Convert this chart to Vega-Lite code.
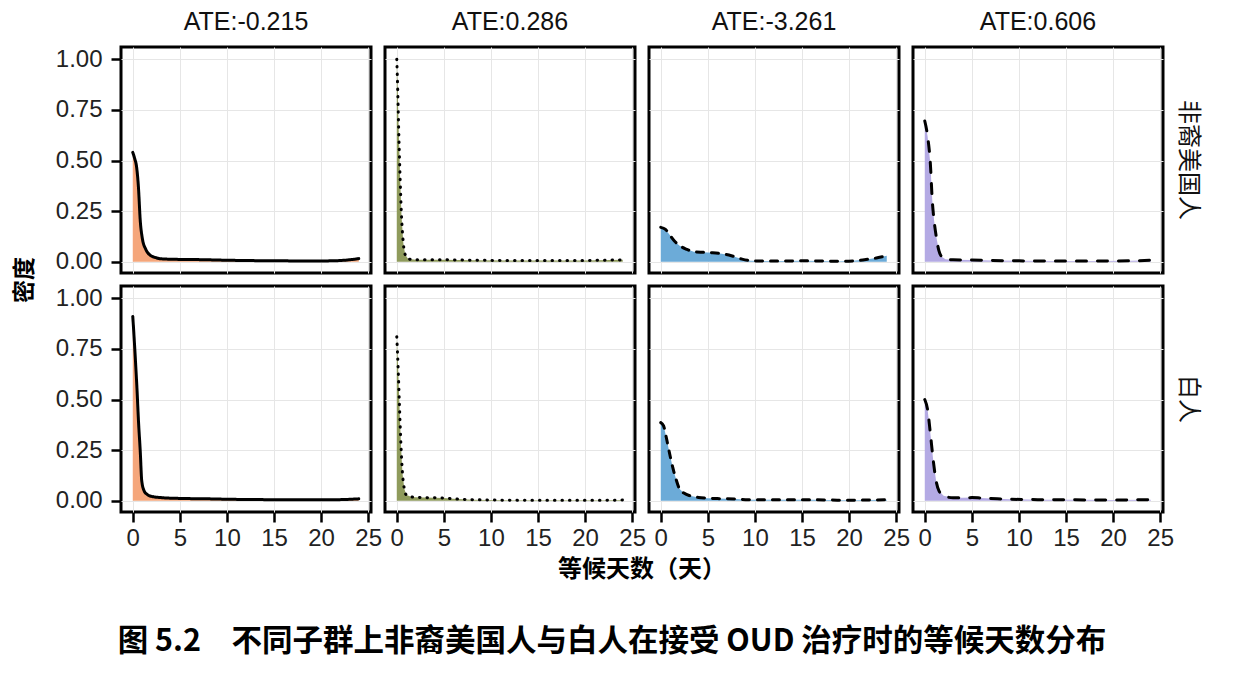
{
  "$schema": "https://vega.github.io/schema/vega-lite/v6.json",
  "padding": {"left": 14, "top": 10, "right": 10, "bottom": 10},
  "bounds": "flush",
  "title": {"text": "图 5.2　不同子群上非裔美国人与白人在接受 OUD 治疗时的等候天数分布", "orient": "bottom", "anchor": "middle", "font": "Noto Sans CJK SC", "fontWeight": "bold", "fontSize": 30.5, "offset": 45, "dx": 5, "color": "#000"},
  "datasets": {
    "d": [
      {"g":"非裔美国人","a":"ATE:-0.215","x":0,"y":0.54},{"g":"非裔美国人","a":"ATE:-0.215","x":0.2,"y":0.51},{"g":"非裔美国人","a":"ATE:-0.215","x":0.4,"y":0.47},{"g":"非裔美国人","a":"ATE:-0.215","x":0.6,"y":0.37},{"g":"非裔美国人","a":"ATE:-0.215","x":0.8,"y":0.2},{"g":"非裔美国人","a":"ATE:-0.215","x":1.0,"y":0.12},{"g":"非裔美国人","a":"ATE:-0.215","x":1.4,"y":0.06},{"g":"非裔美国人","a":"ATE:-0.215","x":1.8,"y":0.035},{"g":"非裔美国人","a":"ATE:-0.215","x":2.5,"y":0.02},{"g":"非裔美国人","a":"ATE:-0.215","x":3,"y":0.015},{"g":"非裔美国人","a":"ATE:-0.215","x":5,"y":0.012},{"g":"非裔美国人","a":"ATE:-0.215","x":7,"y":0.011},{"g":"非裔美国人","a":"ATE:-0.215","x":10,"y":0.008},{"g":"非裔美国人","a":"ATE:-0.215","x":13,"y":0.006},{"g":"非裔美国人","a":"ATE:-0.215","x":16,"y":0.005},{"g":"非裔美国人","a":"ATE:-0.215","x":19,"y":0.004},{"g":"非裔美国人","a":"ATE:-0.215","x":21,"y":0.005},{"g":"非裔美国人","a":"ATE:-0.215","x":22.5,"y":0.008},{"g":"非裔美国人","a":"ATE:-0.215","x":24,"y":0.016},
      {"g":"非裔美国人","a":"ATE:0.286","x":0,"y":1.0},{"g":"非裔美国人","a":"ATE:0.286","x":0.1,"y":0.85},{"g":"非裔美国人","a":"ATE:0.286","x":0.2,"y":0.66},{"g":"非裔美国人","a":"ATE:0.286","x":0.35,"y":0.42},{"g":"非裔美国人","a":"ATE:0.286","x":0.5,"y":0.23},{"g":"非裔美国人","a":"ATE:0.286","x":0.7,"y":0.09},{"g":"非裔美国人","a":"ATE:0.286","x":0.9,"y":0.035},{"g":"非裔美国人","a":"ATE:0.286","x":1.2,"y":0.015},{"g":"非裔美国人","a":"ATE:0.286","x":2,"y":0.01},{"g":"非裔美国人","a":"ATE:0.286","x":5,"y":0.01},{"g":"非裔美国人","a":"ATE:0.286","x":8,"y":0.008},{"g":"非裔美国人","a":"ATE:0.286","x":12,"y":0.007},{"g":"非裔美国人","a":"ATE:0.286","x":16,"y":0.007},{"g":"非裔美国人","a":"ATE:0.286","x":20,"y":0.007},{"g":"非裔美国人","a":"ATE:0.286","x":24,"y":0.01},
      {"g":"非裔美国人","a":"ATE:-3.261","x":0,"y":0.17},{"g":"非裔美国人","a":"ATE:-3.261","x":0.5,"y":0.16},{"g":"非裔美国人","a":"ATE:-3.261","x":1,"y":0.13},{"g":"非裔美国人","a":"ATE:-3.261","x":1.5,"y":0.1},{"g":"非裔美国人","a":"ATE:-3.261","x":2,"y":0.08},{"g":"非裔美国人","a":"ATE:-3.261","x":2.7,"y":0.063},{"g":"非裔美国人","a":"ATE:-3.261","x":3.5,"y":0.05},{"g":"非裔美国人","a":"ATE:-3.261","x":4.5,"y":0.047},{"g":"非裔美国人","a":"ATE:-3.261","x":5.5,"y":0.045},{"g":"非裔美国人","a":"ATE:-3.261","x":6.5,"y":0.04},{"g":"非裔美国人","a":"ATE:-3.261","x":7.5,"y":0.03},{"g":"非裔美国人","a":"ATE:-3.261","x":8.5,"y":0.015},{"g":"非裔美国人","a":"ATE:-3.261","x":9.5,"y":0.006},{"g":"非裔美国人","a":"ATE:-3.261","x":11,"y":0.004},{"g":"非裔美国人","a":"ATE:-3.261","x":13,"y":0.004},{"g":"非裔美国人","a":"ATE:-3.261","x":15,"y":0.005},{"g":"非裔美国人","a":"ATE:-3.261","x":17,"y":0.004},{"g":"非裔美国人","a":"ATE:-3.261","x":19,"y":0.003},{"g":"非裔美国人","a":"ATE:-3.261","x":20.5,"y":0.005},{"g":"非裔美国人","a":"ATE:-3.261","x":22,"y":0.013},{"g":"非裔美国人","a":"ATE:-3.261","x":23,"y":0.02},{"g":"非裔美国人","a":"ATE:-3.261","x":24,"y":0.03},
      {"g":"非裔美国人","a":"ATE:0.606","x":0,"y":0.695},{"g":"非裔美国人","a":"ATE:0.606","x":0.3,"y":0.62},{"g":"非裔美国人","a":"ATE:0.606","x":0.6,"y":0.48},{"g":"非裔美国人","a":"ATE:0.606","x":0.8,"y":0.3},{"g":"非裔美国人","a":"ATE:0.606","x":1.0,"y":0.2},{"g":"非裔美国人","a":"ATE:0.606","x":1.2,"y":0.13},{"g":"非裔美国人","a":"ATE:0.606","x":1.5,"y":0.055},{"g":"非裔美国人","a":"ATE:0.606","x":1.8,"y":0.025},{"g":"非裔美国人","a":"ATE:0.606","x":2.2,"y":0.013},{"g":"非裔美国人","a":"ATE:0.606","x":3,"y":0.01},{"g":"非裔美国人","a":"ATE:0.606","x":5,"y":0.009},{"g":"非裔美国人","a":"ATE:0.606","x":7,"y":0.007},{"g":"非裔美国人","a":"ATE:0.606","x":10,"y":0.005},{"g":"非裔美国人","a":"ATE:0.606","x":14,"y":0.004},{"g":"非裔美国人","a":"ATE:0.606","x":18,"y":0.004},{"g":"非裔美国人","a":"ATE:0.606","x":22,"y":0.005},{"g":"非裔美国人","a":"ATE:0.606","x":24,"y":0.008},
      {"g":"白人","a":"ATE:-0.215","x":0,"y":0.91},{"g":"白人","a":"ATE:-0.215","x":0.15,"y":0.8},{"g":"白人","a":"ATE:-0.215","x":0.3,"y":0.68},{"g":"白人","a":"ATE:-0.215","x":0.45,"y":0.55},{"g":"白人","a":"ATE:-0.215","x":0.6,"y":0.4},{"g":"白人","a":"ATE:-0.215","x":0.8,"y":0.24},{"g":"白人","a":"ATE:-0.215","x":0.95,"y":0.1},{"g":"白人","a":"ATE:-0.215","x":1.2,"y":0.05},{"g":"白人","a":"ATE:-0.215","x":1.5,"y":0.033},{"g":"白人","a":"ATE:-0.215","x":2,"y":0.022},{"g":"白人","a":"ATE:-0.215","x":3,"y":0.016},{"g":"白人","a":"ATE:-0.215","x":5,"y":0.012},{"g":"白人","a":"ATE:-0.215","x":8,"y":0.01},{"g":"白人","a":"ATE:-0.215","x":10,"y":0.008},{"g":"白人","a":"ATE:-0.215","x":14,"y":0.006},{"g":"白人","a":"ATE:-0.215","x":18,"y":0.005},{"g":"白人","a":"ATE:-0.215","x":22,"y":0.006},{"g":"白人","a":"ATE:-0.215","x":24,"y":0.01},
      {"g":"白人","a":"ATE:0.286","x":0,"y":0.81},{"g":"白人","a":"ATE:0.286","x":0.15,"y":0.65},{"g":"白人","a":"ATE:0.286","x":0.3,"y":0.45},{"g":"白人","a":"ATE:0.286","x":0.45,"y":0.27},{"g":"白人","a":"ATE:0.286","x":0.6,"y":0.14},{"g":"白人","a":"ATE:0.286","x":0.8,"y":0.06},{"g":"白人","a":"ATE:0.286","x":1.0,"y":0.03},{"g":"白人","a":"ATE:0.286","x":1.5,"y":0.02},{"g":"白人","a":"ATE:0.286","x":2,"y":0.018},{"g":"白人","a":"ATE:0.286","x":3,"y":0.016},{"g":"白人","a":"ATE:0.286","x":4,"y":0.015},{"g":"白人","a":"ATE:0.286","x":5,"y":0.014},{"g":"白人","a":"ATE:0.286","x":6,"y":0.01},{"g":"白人","a":"ATE:0.286","x":8,"y":0.006},{"g":"白人","a":"ATE:0.286","x":10,"y":0.004},{"g":"白人","a":"ATE:0.286","x":14,"y":0.003},{"g":"白人","a":"ATE:0.286","x":18,"y":0.003},{"g":"白人","a":"ATE:0.286","x":22,"y":0.003},{"g":"白人","a":"ATE:0.286","x":24,"y":0.004},
      {"g":"白人","a":"ATE:-3.261","x":0,"y":0.386},{"g":"白人","a":"ATE:-3.261","x":0.3,"y":0.37},{"g":"白人","a":"ATE:-3.261","x":0.6,"y":0.31},{"g":"白人","a":"ATE:-3.261","x":1.0,"y":0.22},{"g":"白人","a":"ATE:-3.261","x":1.3,"y":0.16},{"g":"白人","a":"ATE:-3.261","x":1.6,"y":0.11},{"g":"白人","a":"ATE:-3.261","x":2.0,"y":0.058},{"g":"白人","a":"ATE:-3.261","x":2.5,"y":0.037},{"g":"白人","a":"ATE:-3.261","x":3.1,"y":0.025},{"g":"白人","a":"ATE:-3.261","x":4,"y":0.017},{"g":"白人","a":"ATE:-3.261","x":5,"y":0.013},{"g":"白人","a":"ATE:-3.261","x":6,"y":0.011},{"g":"白人","a":"ATE:-3.261","x":8,"y":0.009},{"g":"白人","a":"ATE:-3.261","x":9,"y":0.006},{"g":"白人","a":"ATE:-3.261","x":10,"y":0.005},{"g":"白人","a":"ATE:-3.261","x":13,"y":0.005},{"g":"白人","a":"ATE:-3.261","x":16,"y":0.005},{"g":"白人","a":"ATE:-3.261","x":18,"y":0.004},{"g":"白人","a":"ATE:-3.261","x":20,"y":0.003},{"g":"白人","a":"ATE:-3.261","x":22,"y":0.004},{"g":"白人","a":"ATE:-3.261","x":24,"y":0.005},
      {"g":"白人","a":"ATE:0.606","x":0,"y":0.5},{"g":"白人","a":"ATE:0.606","x":0.3,"y":0.45},{"g":"白人","a":"ATE:0.606","x":0.6,"y":0.33},{"g":"白人","a":"ATE:0.606","x":0.9,"y":0.2},{"g":"白人","a":"ATE:0.606","x":1.2,"y":0.1},{"g":"白人","a":"ATE:0.606","x":1.5,"y":0.05},{"g":"白人","a":"ATE:0.606","x":2,"y":0.025},{"g":"白人","a":"ATE:0.606","x":3,"y":0.015},{"g":"白人","a":"ATE:0.606","x":4,"y":0.015},{"g":"白人","a":"ATE:0.606","x":5,"y":0.016},{"g":"白人","a":"ATE:0.606","x":6,"y":0.014},{"g":"白人","a":"ATE:0.606","x":7,"y":0.012},{"g":"白人","a":"ATE:0.606","x":9,"y":0.008},{"g":"白人","a":"ATE:0.606","x":12,"y":0.006},{"g":"白人","a":"ATE:0.606","x":16,"y":0.005},{"g":"白人","a":"ATE:0.606","x":20,"y":0.004},{"g":"白人","a":"ATE:0.606","x":24,"y":0.006}
    ]
  },
  "data": {"name": "d"},
  "facet": {
    "row": {"field": "g", "type": "nominal", "sort": ["非裔美国人", "白人"], "title": "密度",
      "header": {"labelOrient": "right", "labelAngle": 90, "labelFontSize": 24, "labelFont": "Noto Sans CJK SC", "labelColor": "#111", "labelPadding": 13,
        "titleOrient": "left", "titleFont": "Noto Sans CJK SC", "titleFontSize": 23, "titleFontWeight": "bold", "titleColor": "#000", "titlePadding": 8}},
    "column": {"field": "a", "type": "nominal", "sort": ["ATE:-0.215", "ATE:0.286", "ATE:-3.261", "ATE:0.606"], "title": "等候天数（天）",
      "header": {"labelFontSize": 25, "labelFont": "Liberation Sans", "labelColor": "#111", "labelPadding": 12,
        "titleOrient": "bottom", "titleFont": "Noto Sans CJK SC", "titleFontSize": 24, "titleFontWeight": "bold", "titleColor": "#000", "titlePadding": -2}}
  },
  "spacing": {"row": 13, "column": 14},
  "spec": {
    "width": 250,
    "height": 226,
    "layer": [
      {
        "mark": {"type": "area", "opacity": 1, "clip": true},
        "encoding": {
          "x": {"field": "x", "type": "quantitative"},
          "y": {"field": "y", "type": "quantitative", "stack": null},
          "y2": {"datum": 0},
          "fill": {"field": "a", "type": "nominal", "legend": null,
            "scale": {"domain": ["ATE:-0.215", "ATE:0.286", "ATE:-3.261", "ATE:0.606"], "range": ["#F5A67B", "#8F9B5C", "#6CABD8", "#B4AAE4"]}}
        }
      },
      {
        "mark": {"type": "line", "color": "#000", "strokeWidth": 3, "strokeCap": "round", "clip": true, "interpolate": "monotone"},
        "encoding": {
          "x": {"field": "x", "type": "quantitative",
            "scale": {"domain": [-1.25, 25.3], "nice": false, "zero": false},
            "axis": {"values": [0, 5, 10, 15, 20, 25], "title": null}},
          "y": {"field": "y", "type": "quantitative",
            "scale": {"domain": [-0.055, 1.06], "nice": false, "zero": false},
            "axis": {"values": [0, 0.25, 0.5, 0.75, 1], "format": ".2f", "title": null}},
          "strokeDash": {"field": "a", "type": "nominal", "legend": null,
            "scale": {"domain": ["ATE:-0.215", "ATE:0.286", "ATE:-3.261", "ATE:0.606"], "range": [[1, 0], [0.5, 7], [7, 8], [10, 11]]}}
        }
      }
    ]
  },
  "config": {
    "view": {"stroke": "#000", "strokeWidth": 3},
    "axis": {
      "domain": false,
      "grid": true, "gridColor": "#e6e6e6", "gridWidth": 1,
      "ticks": true, "tickColor": "#000", "tickWidth": 2.5, "tickSize": 10,
      "labelFont": "Liberation Sans", "labelFontSize": 24, "labelColor": "#222"
    },
    "axisX": {"labelPadding": 4},
    "axisY": {"labelPadding": 9}
  }
}
